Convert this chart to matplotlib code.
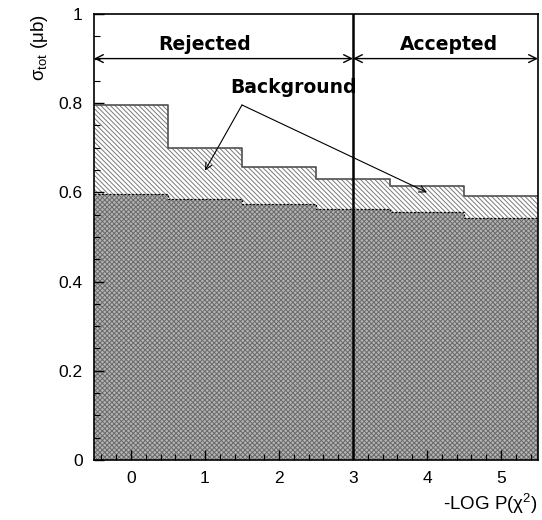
import numpy as np
import matplotlib
matplotlib.use("Agg")
import matplotlib.pyplot as plt
from matplotlib.ticker import MultipleLocator

plt.rcParams["font.family"] = ["Liberation Sans", "DejaVu Sans"]
plt.rcParams["mathtext.fontset"] = "custom"
plt.rcParams["mathtext.rm"] = "Liberation Sans"
plt.rcParams["mathtext.it"] = "Liberation Sans"
plt.rcParams["hatch.linewidth"] = 0.7

# bin centres of -log P(chi^2)
bin_centers = [0, 1, 2, 3, 4, 5]
total = [0.795, 0.699, 0.658, 0.629, 0.614, 0.593]      # signal + background
signal = [0.597, 0.585, 0.575, 0.563, 0.556, 0.543]     # after background subtraction
cut_value = 3

centers = np.array(bin_centers, dtype=float)
edges = np.append(centers - 0.5, centers[-1] + 0.5)
tot = np.append(total, total[-1])
sig = np.append(signal, signal[-1])

fig = plt.figure(figsize=(5.42, 5.2), dpi=100)
ax = fig.add_axes([0.1734, 0.1154, 0.8192, 0.8577])

# lower region: checkered grey
ax.fill_between(edges, 0, sig, step="post", facecolor="#b4b4b4",
                edgecolor="#6a6a6a", hatch="xxxxxxx", linewidth=0)
# background band: diagonal hatching
ax.fill_between(edges, sig, tot, step="post", facecolor="white",
                edgecolor="#7a7a7a", hatch="\\\\\\\\\\\\\\", linewidth=0)
ax.step(edges, tot, where="post", color="#505050", lw=1.2)
ax.step(edges, sig, where="post", color="black", lw=0.9, ls=(0, (1.5, 1.5)))

ax.axvline(cut_value, color="black", lw=1.8)

# Rejected / Accepted arrows
arr = dict(arrowstyle="<->", color="black", lw=1.0, shrinkA=0, shrinkB=0,
           mutation_scale=14)
ax.annotate("", xy=(edges[0], 0.9), xytext=(cut_value, 0.9), arrowprops=arr)
ax.annotate("", xy=(cut_value, 0.9), xytext=(edges[-1], 0.9), arrowprops=arr)
lab = dict(ha="center", va="center", fontsize=13.5, fontweight="bold",
           family="DejaVu Sans")
ax.text(1.0, 0.932, "Rejected", **lab)
ax.text(4.3, 0.932, "Accepted", **lab)

# Background label with two arrows
bg = dict(arrowstyle="->", color="black", lw=0.8, shrinkA=0, shrinkB=0,
          mutation_scale=12)
ax.annotate("", xy=(1.0, 0.649), xytext=(1.5, 0.796), arrowprops=bg)
ax.annotate("", xy=(4.0, 0.600), xytext=(1.5, 0.796), arrowprops=bg)
ax.text(2.2, 0.836, "Background", **lab)

ax.set_xlim(edges[0], edges[-1])
ax.set_ylim(0, 1)
ax.xaxis.set_major_locator(MultipleLocator(1))
ax.xaxis.set_minor_locator(MultipleLocator(0.2))
ax.yaxis.set_major_locator(MultipleLocator(0.2))
ax.yaxis.set_minor_locator(MultipleLocator(0.05))
ax.set_yticks([0, 0.2, 0.4, 0.6, 0.8, 1.0])
ax.set_yticklabels(["0", "0.2", "0.4", "0.6", "0.8", "1"])
ax.tick_params(which="both", direction="in", top=False, right=False,
               labelsize=12.5, pad=8)
ax.tick_params(which="major", length=7, width=1)
ax.tick_params(which="minor", length=4, width=0.8)
for s in ax.spines.values():
    s.set_linewidth(1.2)

ax.set_xlabel("-LOG P(χ$^{2}$)", fontsize=13.5, loc="right", labelpad=4)
ax.set_ylabel("σ$_{\\mathrm{tot}}$ (μb)", fontsize=13.5, loc="top",
              labelpad=6)

fig.savefig("out.png", dpi=100)
